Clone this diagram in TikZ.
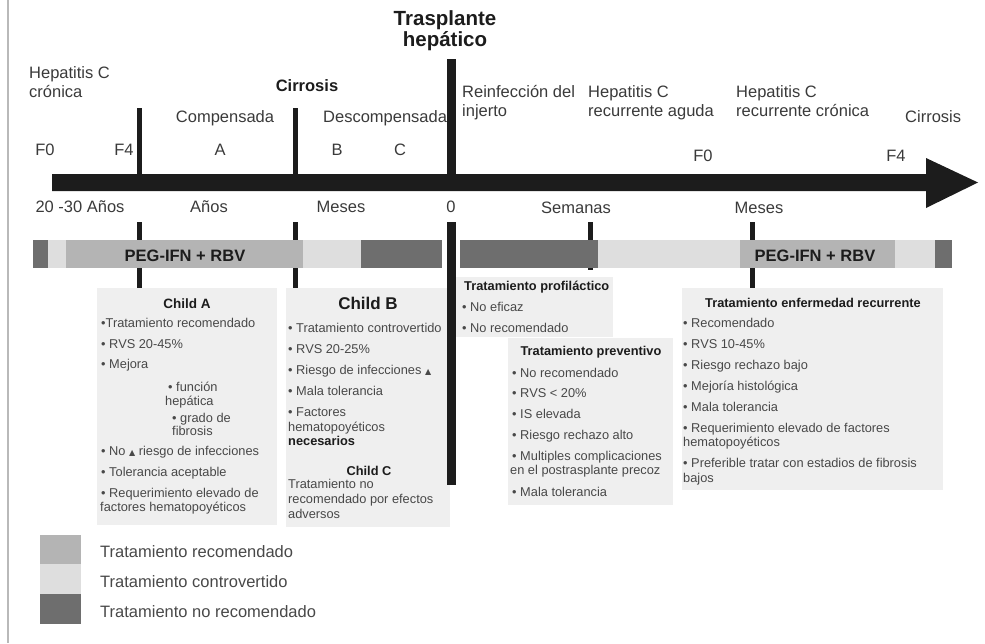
\documentclass[tikz,border=0pt]{standalone}
\usepackage{fontspec}
\setmainfont{Liberation Sans}
\newfontfamily\symfont{DejaVu Sans}
\definecolor{bdark}{HTML}{6E6E6E}
\definecolor{bmid}{HTML}{B4B4B4}
\definecolor{blight}{HTML}{DEDEDE}
\definecolor{boxfill}{HTML}{EFEFEF}
\definecolor{txt}{HTML}{3A3A3A}
\definecolor{bodytxt}{HTML}{484848}
\definecolor{ink}{HTML}{1C1C1C}
\newcommand\lblfont{\fontsize{16.5}{19}\selectfont}
\newcommand\bodyfont{\fontsize{12.8}{15}\selectfont}
\newcommand\uptri{{\symfont\fontsize{8}{10}\selectfont ▲}}
\begin{document}
\begin{tikzpicture}[x=1pt,y=-1pt,
  lbl/.style={font=\lblfont,text=txt,inner sep=0pt},
  blbl/.style={font=\lblfont\bfseries,text=ink,inner sep=0pt},
  body/.style={font=\bodyfont,text=bodytxt,inner sep=0pt,anchor=base west},
  head/.style={font=\bodyfont\bfseries,text=ink,inner sep=0pt,anchor=base},
  tick/.style={line width=5pt,draw=ink},
  legtxt/.style={font=\lblfont,text=bodytxt,inner sep=0pt,anchor=base west},
]
\useasboundingbox (0,0) rectangle (985,643);

% left frame rule
\draw[gray!55,line width=1.5pt] (8,0) -- (8,643);

% panels
\fill[boxfill] (97,288) rectangle (277,525);
\fill[boxfill] (286,288) rectangle (450,527);
\fill[boxfill] (456,277) rectangle (613,337);
\fill[boxfill] (508,338) rectangle (673,505);
\fill[boxfill] (682,288) rectangle (943,490);

% ticks below the axis (behind the treatment band)
\coordinate (b1t) at (139,222); \coordinate (b1b) at (139,288);
\coordinate (b2t) at (295,222); \coordinate (b2b) at (295,288);
\coordinate (b3t) at (590,222); \coordinate (b3b) at (590,270);
\coordinate (b4t) at (752,222); \coordinate (b4b) at (752,288);
\foreach \k in {1,2,3,4} \draw[tick] (b\k t) -- (b\k b);

% treatment band
\fill[bdark]  (33,240) rectangle (48,268);
\fill[blight] (48,240) rectangle (66,268);
\fill[bmid]   (66,240) rectangle (303,268);
\fill[blight] (303,240) rectangle (361,268);
\fill[bdark]  (361,240) rectangle (442,268);
\fill[bdark]  (460,240) rectangle (598,268);
\fill[blight] (598,240) rectangle (740,268);
\fill[bmid]   (740,240) rectangle (895,268);
\fill[blight] (895,240) rectangle (935,268);
\fill[bdark]  (935,240) rectangle (952,268);
\node[blbl,anchor=base] (peg1) at (185,261) {PEG-IFN + RBV};
\node[blbl,anchor=base] (peg2) at (815,261) {PEG-IFN + RBV};

% time axis
\fill[ink] (52,174) -- (926,174) -- (926,158) -- (978,182.5) -- (926,208)
  -- (926,191) -- (52,191) -- cycle;
\coordinate (a1t) at (139,108); \coordinate (a1b) at (139,176);
\coordinate (a2t) at (295,108); \coordinate (a2b) at (295,176);
\draw[tick] (a1t) -- (a1b);
\draw[tick] (a2t) -- (a2b);

% labels above the axis
\node[lbl,align=left,anchor=north west] (hcc) at (29,66) {Hepatitis C\\crónica};
\node[blbl,anchor=base] (cirr) at (307,91) {Cirrosis};
\node[lbl,anchor=base] (comp) at (225,122) {Compensada};
\node[lbl,anchor=base west] (desc) at (323,122) {Descompensada};
\node[lbl,anchor=base] (f0a) at (45,155) {F0};
\node[lbl,anchor=base] (f4a) at (124,155) {F4};
\node[lbl,anchor=base] (sa) at (220,155) {A};
\node[lbl,anchor=base] (sb) at (337,155) {B};
\node[lbl,anchor=base] (sc) at (400,155) {C};
\node[font=\fontsize{20.5}{21}\selectfont\bfseries,text=ink,inner sep=0pt,
  align=center,anchor=north] (tx) at (445,10) {Trasplante\\hepático};
\node[lbl,align=left,anchor=north west] (reinf) at (462,85) {Reinfección del\\injerto};
\node[lbl,align=left,anchor=north west] (agud) at (588,85) {Hepatitis C\\recurrente aguda};
\node[lbl,align=left,anchor=north west] (cron) at (736,85) {Hepatitis C\\recurrente crónica};
\node[lbl,anchor=base west] (cirr2) at (905,122) {Cirrosis};
\node[lbl,anchor=base] (f0b) at (703,161) {F0};
\node[lbl,anchor=base] (f4b) at (896,161) {F4};

% labels below the axis
\node[lbl,anchor=base] (u1) at (80,212) {20 -30 Años};
\node[lbl,anchor=base] (u2) at (209,212) {Años};
\node[lbl,anchor=base] (u3) at (341,212) {Meses};
\node[lbl,anchor=base] (u4) at (451,212) {0};
\node[lbl,anchor=base] (u5) at (576,213) {Semanas};
\node[lbl,anchor=base] (u6) at (759,213) {Meses};

% Child A
\node[head,font=\fontsize{13.5}{15}\selectfont\bfseries] (cat) at (187,308) {Child A};
\foreach \x/\y/\t [count=\i] in {
  101/327/{•Tratamiento recomendado},
  101/348/{• RVS 20-45\%},
  101/368/{• Mejora},
  168/391/{• función},
  165/405/{hepática},
  172/422/{• grado de},
  172/435/{fibrosis},
  101/455/{• No \uptri\ riesgo de infecciones},
  101/476/{• Tolerancia aceptable},
  101/497/{• Requerimiento elevado de},
  100/511/{factores hematopoyéticos}}
  \node[body] (ca\i) at (\x,\y) {\t};

% Child B and Child C
\node[head,font=\fontsize{17}{19}\selectfont\bfseries] (cbt) at (368,309) {Child B};
\foreach \y/\t [count=\i] in {
  332/{• Tratamiento controvertido},
  353/{• RVS 20-25\%},
  374/{• Riesgo de infecciones \uptri},
  395/{• Mala tolerancia},
  416/{• Factores},
  431/{hematopoyéticos}}
  \node[body] (cb\i) at (288,\y) {\t};
\node[body,font=\bodyfont\bfseries,text=ink] (cbn) at (288,445) {necesarios};
\node[head] (cct) at (369,475) {Child C};
\foreach \y/\t [count=\i] in {
  488/{Tratamiento no},
  503/{recomendado por efectos},
  518/{adversos}}
  \node[body] (cc\i) at (288,\y) {\t};

% prophylactic treatment
\node[head,anchor=base west] (prt) at (464,290) {Tratamiento profiláctico};
\node[body] (pr1) at (462,311) {• No eficaz};
\node[body] (pr2) at (462,332) {• No recomendado};

% preventive treatment
\node[head] (pvt) at (591,355) {Tratamiento preventivo};
\foreach \x/\y/\t [count=\i] in {
  512/377/{• No recomendado},
  512/397/{• RVS < 20\%},
  512/418/{• IS elevada},
  512/439/{• Riesgo rechazo alto},
  512/460/{• Multiples complicaciones},
  510/474/{en el postrasplante precoz},
  512/496/{• Mala tolerancia}}
  \node[body] (pv\i) at (\x,\y) {\t};

% recurrent disease treatment
\node[head] (rct) at (813,307) {Tratamiento enfermedad recurrente};
\foreach \y/\t [count=\i] in {
  327/{• Recomendado},
  348/{• RVS 10-45\%},
  369/{• Riesgo rechazo bajo},
  390/{• Mejoría histológica},
  411/{• Mala tolerancia},
  432/{• Requerimiento elevado de factores},
  446/{hematopoyéticos},
  467/{• Preferible tratar con estadios de fibrosis},
  482/{bajos}}
  \node[body] (rc\i) at (683,\y) {\t};

% transplant marker, interrupted around the "0" label
\coordinate (trt) at (451,59);
\coordinate (trm) at (451,190);
\coordinate (trn) at (451,222);
\coordinate (trb) at (451,485);
\draw[line width=9pt,draw=ink] (trt) -- (trm);
\draw[line width=9pt,draw=ink] (trn) -- (trb);

% legend
\fill[bmid]   (40,535) rectangle (81,564);
\fill[blight] (40,564) rectangle (81,594);
\fill[bdark]  (40,594) rectangle (81,624);
\node[legtxt] (lg1) at (100,557) {Tratamiento recomendado};
\node[legtxt] (lg2) at (100,587) {Tratamiento controvertido};
\node[legtxt] (lg3) at (100,617) {Tratamiento no recomendado};
\end{tikzpicture}
\end{document}
